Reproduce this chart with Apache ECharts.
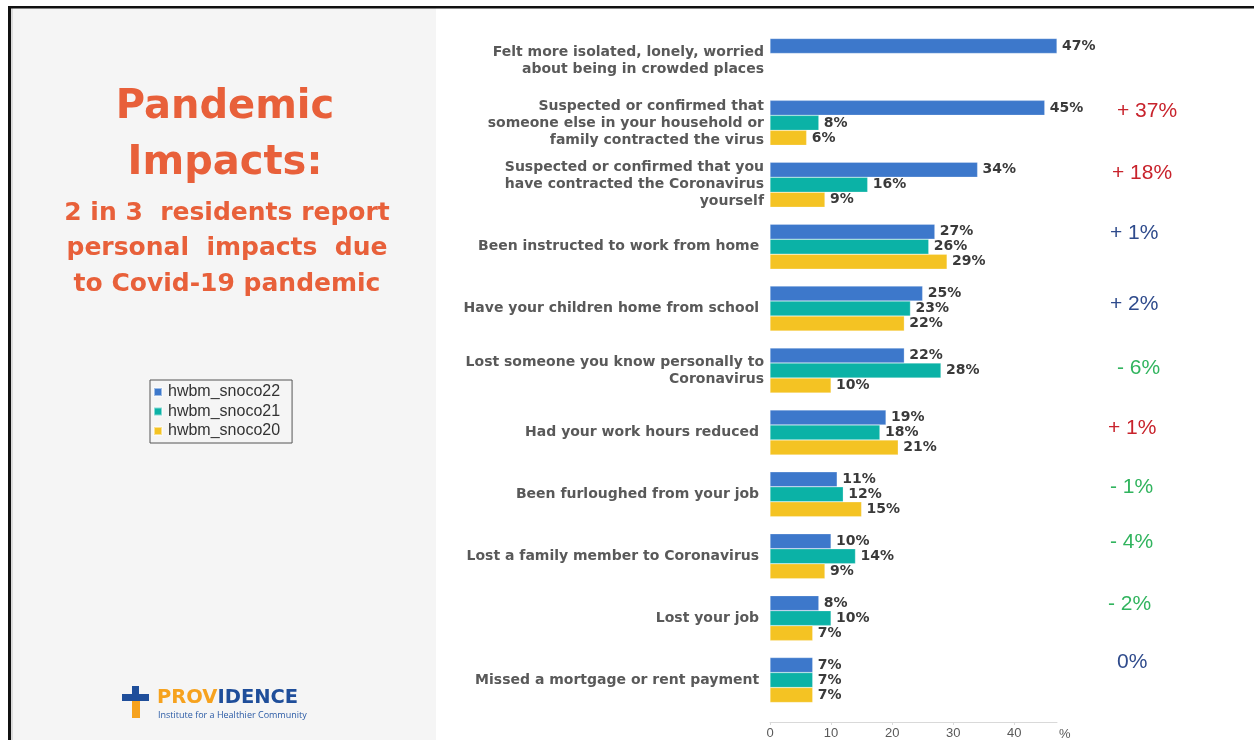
<!DOCTYPE html>
<html><head><meta charset="utf-8">
<script src="https://cdn.jsdelivr.net/npm/echarts@6/dist/echarts.min.js"></script>
<style>html,body{margin:0;padding:0;background:#fff}#c{width:1254px;height:740px}</style>
</head><body><div id="c"></div>
<script>
const categories = [
  'Felt more isolated, lonely, worried\nabout being in crowded places',
  'Suspected or confirmed that\nsomeone else in your household or\nfamily contracted the virus',
  'Suspected or confirmed that you\nhave contracted the Coronavirus\nyourself',
  'Been instructed to work from home ',
  'Have your children home from school ',
  'Lost someone you know personally to\nCoronavirus',
  'Had your work hours reduced ',
  'Been furloughed from your job ',
  'Lost a family member to Coronavirus ',
  'Lost your job ',
  'Missed a mortgage or rent payment '
];
const seriesNames = ['hwbm_snoco22', 'hwbm_snoco21', 'hwbm_snoco20'];
const values22 = [47, 45, 34, 27, 25, 22, 19, 11, 10, 8, 7];
const values21 = [null, 8, 16, 26, 23, 28, 18, 12, 14, 10, 7];
const values20 = [null, 6, 9, 29, 22, 10, 21, 15, 9, 7, 7];
const xTickValues = [0, 10, 20, 30, 40];
const changeLabels = ['', '+ 37%', '+ 18%', '+ 1%', '+ 2%', '- 6%', '+ 1%', '- 1%', '- 4%', '- 2%', '0%'];
const changeKinds = ['', 'red', 'red', 'navy', 'navy', 'green', 'red', 'green', 'green', 'green', 'navy'];
const titleLines = ['Pandemic', 'Impacts:'];
const subtitleLines = ['2 in 3  residents report', 'personal  impacts  due', 'to Covid-19 pandemic'];

// styling / layout (not data)
const seriesColors = ['#3d78cb', '#0bb2a6', '#f4c323'];
const kindColors = { red: '#c8232c', navy: '#2f4b8c', green: '#31b45e' };
const annotPos = [null, [1117, 111], [1112, 173], [1110, 233], [1110, 304], [1117, 368], [1108, 428], [1110, 487], [1110, 542], [1108, 604], [1117, 662]];
const allValues = [values22, values21, values20];

const chart = echarts.init(document.getElementById('c'));

const graphics = [
  { type: 'rect', z: -10, shape: { x: 11, y: 8, width: 425, height: 732 }, style: { fill: '#f5f5f5' } },
  { type: 'rect', z: -9, shape: { x: 11, y: 8, width: 2, height: 732 }, style: { fill: '#dcdcdc' } },
  { type: 'rect', z: -8, shape: { x: 8, y: 6, width: 1246, height: 2.5 }, style: { fill: '#111' } },
  { type: 'rect', z: -8, shape: { x: 8, y: 6, width: 3, height: 734 }, style: { fill: '#111' } }
];
titleLines.forEach((t, i) => graphics.push({
  type: 'text', x: 225, y: 108 + i * 56,
  style: { text: t, fill: '#e8603a', font: 'bold 40px "DejaVu Sans"', textAlign: 'center', textVerticalAlign: 'middle' }
}));
subtitleLines.forEach((t, i) => graphics.push({
  type: 'text', x: 227, y: 213 + i * 35.5,
  style: { text: t, fill: '#e8603a', font: 'bold 25px "DejaVu Sans"', textAlign: 'center', textVerticalAlign: 'middle' }
}));
// logo
graphics.push(
  { type: 'rect', shape: { x: 132, y: 686, width: 7, height: 9 }, style: { fill: '#1f4e9a' } },
  { type: 'rect', shape: { x: 132, y: 700, width: 8, height: 18 }, style: { fill: '#f6a21e' } },
  { type: 'rect', shape: { x: 122, y: 694, width: 27, height: 7 }, style: { fill: '#1f4e9a' } },
  { type: 'text', x: 157, y: 698, style: { text: '{o|PROV}{b|IDENCE}', textVerticalAlign: 'middle',
      rich: { o: { fill: '#f6a21e', font: 'bold 19.5px "DejaVu Sans"' }, b: { fill: '#1f4e9a', font: 'bold 19.5px "DejaVu Sans"' } } } },
  { type: 'text', x: 158, y: 715, style: { text: 'Institute for a Healthier Community', fill: '#2a5aa5', font: '9px "Open Sans"', textVerticalAlign: 'middle' } }
);
changeLabels.forEach((t, i) => {
  if (!t) return;
  graphics.push({ type: 'text', x: annotPos[i][0], y: annotPos[i][1],
    style: { text: t, fill: kindColors[changeKinds[i]], font: '21px "Liberation Sans"', textVerticalAlign: 'middle' } });
});

chart.setOption({
  animation: false,
  backgroundColor: '#fff',
  grid: { left: 770, top: 30, width: 287, height: 681, containLabel: false, outerBoundsMode: 'none' },
  legend: {
    data: seriesNames, orient: 'vertical', left: 150, top: 380,
    icon: 'rect', itemWidth: 8, itemHeight: 8, itemGap: 3.5,
    padding: [4, 12, 4, 3], borderColor: '#555', borderWidth: 1,
    backgroundColor: '#f5f5f5',
    textStyle: { fontFamily: 'Liberation Sans', fontSize: 16, color: '#333', padding: [0, 0, 0, 1] }
  },
  xAxis: {
    type: 'value', min: 0, max: 47, interval: 10, offset: 11,
    name: '%', nameLocation: 'end', nameGap: 2,
    nameTextStyle: { fontFamily: 'Liberation Sans', fontSize: 13, color: '#595959', verticalAlign: 'top', padding: [6, 0, 0, 0] },
    axisLine: { show: true, lineStyle: { color: '#d9d9d9' } },
    axisTick: { show: true, length: 3, lineStyle: { color: '#d9d9d9' } },
    splitLine: { show: false },
    axisLabel: { showMaxLabel: false, fontFamily: 'Liberation Sans', fontSize: 13, color: '#595959', margin: 5,
      formatter: v => xTickValues.includes(v) ? String(v) : '' }
  },
  yAxis: {
    type: 'category', inverse: true, data: categories,
    axisLine: { show: false }, axisTick: { show: false },
    axisLabel: { fontFamily: 'DejaVu Sans', fontWeight: 'bold', fontSize: 14, color: '#595959', lineHeight: 17, margin: 6, align: 'right' }
  },
  series: seriesNames.map((n, i) => ({
    name: n, type: 'bar', data: allValues[i], barWidth: 15, barGap: '0%',
    itemStyle: { color: seriesColors[i], borderColor: 'rgba(255,255,255,0.5)', borderWidth: 0.5 },
    label: { show: true, position: 'right', distance: 5, formatter: p => p.value + '%',
      fontFamily: 'DejaVu Sans', fontWeight: 'bold', fontSize: 14, color: '#3a3a3a' }
  })),
  graphic: graphics
});
</script></body></html>
